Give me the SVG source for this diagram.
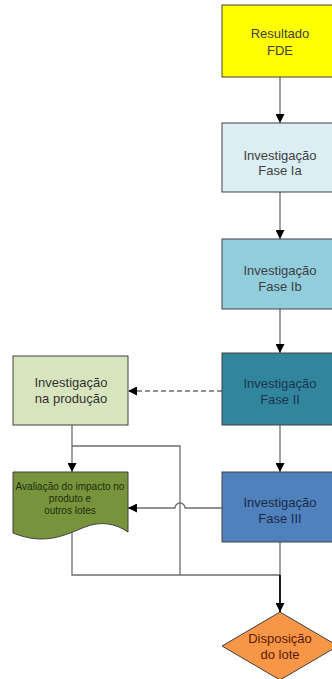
<svg xmlns="http://www.w3.org/2000/svg" width="332" height="679" viewBox="0 0 332 679">
  <style>
    .box { stroke: #404040; stroke-width: 1; }
    .lbl { font-family: "Liberation Sans", Arial, sans-serif; font-size: 13px; text-anchor: middle; }
    .small { font-family: "Liberation Sans", Arial, sans-serif; font-size: 10px; text-anchor: middle; }
    .conn { fill: none; stroke: #6e6e6e; stroke-width: 1.3; }
    .dash { stroke-dasharray: 5 3; }
  </style>
  <defs>
    <marker id="arrow" viewBox="0 0 10 10" refX="10" refY="5" markerWidth="9" markerHeight="9" markerUnits="userSpaceOnUse" orient="auto">
      <path d="M0,0 L10,5 L0,10 Z" fill="#000"/>
    </marker>
  </defs>
  <rect width="332" height="679" fill="#ffffff"/>

  <!-- connectors -->
  <g id="connectors">
    <line class="conn" x1="280" y1="77" x2="280" y2="123" marker-end="url(#arrow)"/>
    <line class="conn" x1="280" y1="192" x2="280" y2="239" marker-end="url(#arrow)"/>
    <line class="conn" x1="280" y1="309" x2="280" y2="353" marker-end="url(#arrow)"/>
    <line class="conn" x1="280" y1="425" x2="280" y2="472" marker-end="url(#arrow)"/>
    <line class="conn dash" x1="222" y1="391" x2="128" y2="391" marker-end="url(#arrow)"/>
    <line class="conn" x1="72" y1="425" x2="72" y2="472" marker-end="url(#arrow)"/>
    <polyline class="conn" points="72,446 180,446 180,575"/>
    <path class="conn" d="M222,508 H185 A5,5 0 0 0 175,508 H128" marker-end="url(#arrow)"/>
    <polyline class="conn" points="72,532 72,575 280,575"/>
    <line class="conn" x1="280" y1="542" x2="280" y2="575"/>
    <line x1="280" y1="575" x2="280" y2="612" stroke="#000" stroke-width="1.8" marker-end="url(#arrow)"/>
  </g>

  <g id="resultado-fde">
    <rect class="box" x="222" y="5" width="116" height="72" fill="#ffff00"/>
    <text class="lbl" x="280" y="38" fill="#404040">Resultado</text>
    <text class="lbl" x="280" y="55" fill="#404040">FDE</text>
  </g>

  <g id="fase-ia">
    <rect class="box" x="222" y="123" width="116" height="69" fill="#daeef3"/>
    <text class="lbl" x="280" y="160" fill="#404040">Investigação</text>
    <text class="lbl" x="280" y="175" fill="#404040">Fase Ia</text>
  </g>

  <g id="fase-ib">
    <rect class="box" x="222" y="239" width="116" height="70" fill="#92cddc"/>
    <text class="lbl" x="280" y="275" fill="#404040">Investigação</text>
    <text class="lbl" x="280" y="291" fill="#404040">Fase Ib</text>
  </g>

  <g id="fase-ii">
    <rect class="box" x="222" y="353" width="116" height="72" fill="#31859c"/>
    <text class="lbl" x="280" y="388" fill="#1c3450">Investigação</text>
    <text class="lbl" x="280" y="404" fill="#1c3450">Fase II</text>
  </g>

  <g id="fase-iii">
    <rect class="box" x="222" y="472" width="116" height="70" fill="#4f81bd"/>
    <text class="lbl" x="280" y="507" fill="#1c2a48">Investigação</text>
    <text class="lbl" x="280" y="523" fill="#1c2a48">Fase III</text>
  </g>

  <g id="investigacao-producao">
    <rect class="box" x="13" y="356" width="115" height="69" fill="#d7e4bd"/>
    <text class="lbl" x="71" y="387" fill="#333333">Investigação</text>
    <text class="lbl" x="71" y="403" fill="#333333">na produção</text>
  </g>

  <g id="avaliacao-impacto">
    <path class="box" d="M13,472 H128 V532 C115,523 100,521 85,527 C65,535 45,546 13,533 Z" fill="#77933c"/>
    <text class="small" x="70" y="490" fill="#1e2e0c">Avaliação do impacto no</text>
    <text class="small" x="70" y="502" fill="#1e2e0c">produto e</text>
    <text class="small" x="70" y="514" fill="#1e2e0c">outros lotes</text>
  </g>

  <g id="disposicao-lote">
    <polygon class="box" points="280,612 338,646 280,680 222,646" fill="#f79646"/>
    <text class="lbl" x="280" y="643" fill="#5a1a08">Disposição</text>
    <text class="lbl" x="280" y="659" fill="#5a1a08">do lote</text>
  </g>
</svg>
